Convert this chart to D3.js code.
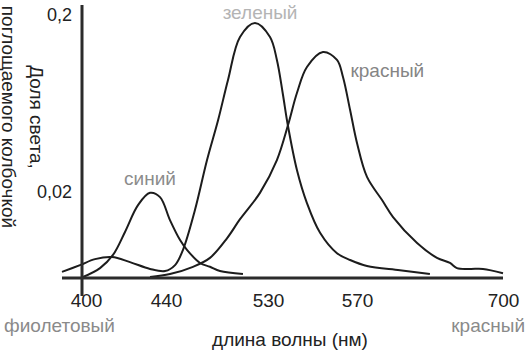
<!DOCTYPE html>
<html>
<head>
<meta charset="utf-8">
<script src="https://cdn.jsdelivr.net/npm/d3@7"></script>
<style>
	body { margin: 0; background: #fff; }
	svg { display: block; font-family: "Liberation Sans", Arial, sans-serif; }
</style>
</head>
<body>
<div id="graphic"></div>
<script>
// tick labels along the wavelength axis (nm) and the share axis
const wavelengthTicks = [400, 440, 530, 570, 700];
const shareTicks = [0.02, 0.2];

// absorption curves: [wavelength nm, share of light]
const blueCurve = [
	[398.5, 0], [407, 0.0021], [413.5, 0.0052], [419.5, 0.0106], [426, 0.0169],
	[432, 0.0198], [437, 0.0188], [443.5, 0.0134], [452.4, 0.0087], [458.5, 0.0064],
	[470, 0.0033], [478.8, 0.0024], [487.6, 0.0014], [507.9, 0.0007]
];

const greenCurve = [
	[388, 0.0012], [397, 0.0028], [404.5, 0.0042], [413, 0.0047], [422, 0.0035],
	[432, 0.0019], [439.5, 0.0014], [448, 0.0028], [455, 0.0064], [465.6, 0.0158],
	[476.2, 0.0525], [486, 0.0932], [494.7, 0.1339], [505.3, 0.1776], [518.5, 0.1919],
	[530.9, 0.1776], [534, 0.1543], [536.6, 0.1207], [538.9, 0.0881], [543, 0.0424],
	[547.5, 0.0174], [553.4, 0.0104], [561, 0.0056], [566.9, 0.004], [578.9, 0.0026],
	[608.2, 0.0016], [634.9, 0.0007]
];

const redCurve = [
	[432, 0], [443.5, 0.0007], [463.8, 0.0024], [478.8, 0.0045], [493.8, 0.0091],
	[505.3, 0.0136], [522.9, 0.0198], [534, 0.0525], [539, 0.0881], [543, 0.1207],
	[547.5, 0.1471], [554.7, 0.1624], [561, 0.1543], [563.7, 0.137], [566.9, 0.1034],
	[570, 0.0698], [578.9, 0.0353], [592.3, 0.0181], [602.1, 0.0141], [623.5, 0.008],
	[641.2, 0.0045], [652.8, 0.0033], [659, 0.0021], [670.6, 0.0019], [682.2, 0.0019],
	[700, 0.0009]
];

const curveLabels = [
	{ text: 'синий', nm: 432, share: 0.031, colour: '#8c8c8c' },
	{ text: 'зеленый', nm: 523, share: 0.2, colour: '#b4b4b4' },
	{ text: 'красный', nm: 597, share: 0.141, colour: '#858585' }
];

const width = 527, height = 353;

let svg = d3.select('#graphic')
	.append('svg')
	.attr('width', width)
	.attr('height', height);

// the picture is a schematic, so both scales are piecewise
const x = d3.scaleLinear()
	.domain(wavelengthTicks)
	.range([86, 166, 268, 357, 503]);

const y = d3.scaleLinear()
	.domain([0, 0.02, 0.2])
	.range([277, 192, 15]);

// curves
const line = d3.line()
	.x((d) => x(d[0]))
	.y((d) => y(d[1]))
	.curve(d3.curveCatmullRom.alpha(0.5));

svg.append('g')
	.selectAll('path')
	.data([blueCurve, greenCurve, redCurve])
	.join('path')
	.attr('d', line)
	.attr('fill', 'none')
	.attr('stroke', '#1c1c1c')
	.attr('stroke-width', 2);

// axis lines (x axis pokes out left of the y axis, y axis pokes below)
svg.append('line')
	.attr('x1', x(388)).attr('x2', x(700))
	.attr('y1', y(0) + 1).attr('y2', y(0) + 1)
	.attr('stroke', '#2b2b2b')
	.attr('stroke-width', 3);

svg.append('line')
	.attr('x1', x(398)).attr('x2', x(398))
	.attr('y1', y(0.2) - 10).attr('y2', y(0) + 19)
	.attr('stroke', '#2b2b2b')
	.attr('stroke-width', 3);

// x tick labels
const xAxis = d3.axisBottom(x)
	.tickValues(wavelengthTicks)
	.tickSize(0)
	.tickPadding(17)
	.tickFormat(d3.format('d'));

svg.append('g')
	.attr('transform', 'translate(0,' + y(0) + ')')
	.call(xAxis)
	.call((g) => g.select('.domain').remove())
	.selectAll('text')
	.attr('font-size', 19)
	.attr('font-family', null)
	.attr('fill', '#222');

// y tick labels
const yAxis = d3.axisLeft(y)
	.tickValues(shareTicks)
	.tickSize(0)
	.tickPadding(10)
	.tickFormat((d) => String(d).replace('.', ','));

svg.append('g')
	.attr('transform', 'translate(' + x(398) + ',0)')
	.call(yAxis)
	.call((g) => g.select('.domain').remove())
	.selectAll('text')
	.attr('font-size', 18)
	.attr('font-family', null)
	.attr('fill', '#222');

// curve names
svg.append('g')
	.selectAll('text')
	.data(curveLabels)
	.join('text')
	.attr('x', (d) => x(d.nm))
	.attr('y', (d) => y(d.share))
	.attr('dy', 4)
	.attr('text-anchor', 'middle')
	.attr('font-size', 19)
	.attr('fill', (d) => d.colour)
	.text((d) => d.text);

// y axis title, rotated to read downwards
const yTitle = svg.append('text')
	.attr('transform', 'translate(30,117) rotate(90)')
	.attr('text-anchor', 'middle')
	.attr('font-size', 19)
	.attr('fill', '#222');

yTitle.append('tspan').attr('x', 0).attr('dy', 0).text('Доля света,');
yTitle.append('tspan').attr('x', 0).attr('dy', 28).text('поглощаемого колбочкой');

// x axis title and spectrum ends
svg.append('text')
	.attr('x', 290).attr('y', 346)
	.attr('text-anchor', 'middle')
	.attr('font-size', 19)
	.attr('fill', '#222')
	.text('длина волны (нм)');

svg.append('text')
	.attr('x', 4).attr('y', 332)
	.attr('font-size', 19)
	.attr('fill', '#8a8a8a')
	.text('фиолетовый');

svg.append('text')
	.attr('x', 525).attr('y', 332)
	.attr('text-anchor', 'end')
	.attr('font-size', 19)
	.attr('fill', '#8a8a8a')
	.text('красный');
</script>
</body>
</html>
